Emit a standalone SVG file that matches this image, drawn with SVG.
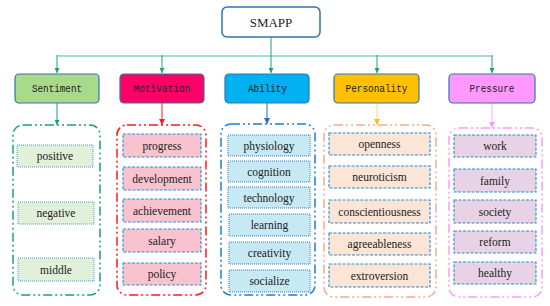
<svg xmlns="http://www.w3.org/2000/svg" width="550" height="306" viewBox="0 0 550 306">
<style>
.root{fill:#fff;stroke:#2e75b6;stroke-width:1.5}
.cat{stroke:#2e75b6;stroke-width:1.2}
.cat-t{font-family:"Liberation Mono","DejaVu Sans Mono",monospace;font-size:10.8px;fill:#222;text-anchor:middle;dominant-baseline:central}
.t{font-family:"Liberation Serif","Times New Roman",serif;font-size:11.5px;fill:#222;text-anchor:middle;dominant-baseline:central}
.grp{fill:#fff;stroke-width:1.5;stroke-dasharray:9 3 2 3 2 3}
.it{stroke:#2e8bd0;stroke-width:1.1;stroke-dasharray:3 1.5}
.dot{stroke:#3aa0d8;stroke-width:1;stroke-dasharray:1 1}
</style>
<defs>
<marker id="aT" viewBox="0 0 10 10" refX="10" refY="5" markerWidth="5" markerHeight="5" orient="auto" markerUnits="userSpaceOnUse"><path d="M0,0L10,5L0,10z" fill="#16a27c"/></marker>
<marker id="aR" viewBox="0 0 10 10" refX="10" refY="5" markerWidth="6" markerHeight="6" orient="auto" markerUnits="userSpaceOnUse"><path d="M0,0L10,5L0,10z" fill="#ff1a1a"/></marker>
<marker id="aB" viewBox="0 0 10 10" refX="10" refY="5" markerWidth="6" markerHeight="6" orient="auto" markerUnits="userSpaceOnUse"><path d="M0,0L10,5L0,10z" fill="#1f6fc8"/></marker>
<marker id="aY" viewBox="0 0 10 10" refX="10" refY="5" markerWidth="6" markerHeight="6" orient="auto" markerUnits="userSpaceOnUse"><path d="M0,0L10,5L0,10z" fill="#ffc000"/></marker>
<marker id="aP" viewBox="0 0 10 10" refX="10" refY="5" markerWidth="6" markerHeight="6" orient="auto" markerUnits="userSpaceOnUse"><path d="M0,0L10,5L0,10z" fill="#ff99ff"/></marker>
</defs>
<rect width="550" height="306" fill="#fff"/>
<g id="connectors" fill="none">
<line x1="57" y1="56" x2="492" y2="56" stroke="#9fe0cf" stroke-width="2"/>
<line x1="271" y1="37" x2="271" y2="73" stroke="#16a27c" stroke-width="1" marker-end="url(#aT)"/>
<line x1="57" y1="55" x2="57" y2="73" stroke="#16a27c" stroke-width="1" marker-end="url(#aT)"/>
<line x1="162" y1="55" x2="162" y2="73" stroke="#16a27c" stroke-width="1" marker-end="url(#aT)"/>
<line x1="377" y1="55" x2="377" y2="73" stroke="#16a27c" stroke-width="1" marker-end="url(#aT)"/>
<line x1="492" y1="55" x2="492" y2="73" stroke="#16a27c" stroke-width="1" marker-end="url(#aT)"/>
<line x1="57" y1="103" x2="57" y2="125" stroke="#16a27c" stroke-width="1" marker-end="url(#aT)"/>
<line x1="162" y1="103" x2="162" y2="125" stroke="#ff1a1a" stroke-width="1" marker-end="url(#aR)"/>
<line x1="267" y1="103" x2="267" y2="124" stroke="#1f6fc8" stroke-width="1" marker-end="url(#aB)"/>
<line x1="377" y1="103" x2="377" y2="125" stroke="#ffd966" stroke-width="1" marker-end="url(#aY)"/>
<line x1="492" y1="103" x2="492" y2="128" stroke="#ffaaff" stroke-width="1" marker-end="url(#aP)"/>
</g>
<g id="smapp"><rect class="root" x="222" y="7" width="98" height="30" rx="5"/><text class="t" x="271" y="22.5" style="font-size:13px">SMAPP</text></g>

<g id="sentiment"><rect class="cat" x="15" y="74" width="84" height="29" rx="4" fill="#a9d98a"/><text class="cat-t" x="57" y="88.5" textLength="50" lengthAdjust="spacingAndGlyphs">Sentiment</text></g>
<g id="motivation"><rect class="cat" x="120" y="74" width="84" height="29" rx="4" fill="#ff0066"/><text class="cat-t" x="162" y="88.5" textLength="57" lengthAdjust="spacingAndGlyphs">Motivation</text></g>
<g id="ability"><rect class="cat" x="225" y="74" width="84" height="29" rx="4" fill="#00b0f0"/><text class="cat-t" x="267.5" y="88.5" textLength="39" lengthAdjust="spacingAndGlyphs">Ability</text></g>
<g id="personality"><rect class="cat" x="334" y="74" width="85" height="29" rx="4" fill="#ffc000"/><text class="cat-t" x="376.5" y="88.5" textLength="62" lengthAdjust="spacingAndGlyphs">Personality</text></g>
<g id="pressure"><rect class="cat" x="449" y="74" width="86" height="29" rx="4" fill="#ff99ff"/><text class="cat-t" x="492" y="88.5" textLength="45" lengthAdjust="spacingAndGlyphs">Pressure</text></g>

<g id="sentiment-group">
<rect class="grp" x="13" y="125" width="87" height="170" rx="10" stroke="#16a27c"/>
<rect class="dot" x="17" y="145" width="76" height="22" fill="#e2efd9"/><text class="t" x="55" y="156">positive</text>
<rect class="dot" x="18" y="202" width="76" height="22" fill="#e2efd9"/><text class="t" x="56" y="213">negative</text>
<rect class="dot" x="18" y="258" width="76" height="23" fill="#e2efd9"/><text class="t" x="56" y="269.5">middle</text>
</g>
<g id="motivation-group">
<rect class="grp" x="117" y="125" width="89" height="170" rx="10" stroke="#ff1a1a"/>
<rect class="it" x="123" y="134" width="78" height="23" fill="#f8c3cf"/><text class="t" x="162" y="145.5">progress</text>
<rect class="it" x="123" y="167" width="78" height="23" fill="#f8c3cf"/><text class="t" x="162" y="178.5">development</text>
<rect class="it" x="123" y="199" width="78" height="23" fill="#f8c3cf"/><text class="t" x="162" y="210.5">achievement</text>
<rect class="it" x="123" y="229" width="78" height="23" fill="#f8c3cf"/><text class="t" x="162" y="240.5">salary</text>
<rect class="it" x="123" y="263" width="78" height="22" fill="#f8c3cf"/><text class="t" x="162" y="274">policy</text>
</g>
<g id="ability-group">
<rect class="grp" x="221" y="124" width="94" height="171" rx="10" stroke="#1f7fd0"/>
<rect class="dot" x="228" y="135" width="82" height="21" fill="#c7e9f3" style="stroke:#2a7fc8"/><text class="t" x="269" y="145.5">physiology</text>
<rect class="dot" x="228" y="161" width="82" height="21" fill="#c7e9f3" style="stroke:#2a7fc8"/><text class="t" x="269" y="171.5">cognition</text>
<rect class="dot" x="228" y="187" width="82" height="21" fill="#c7e9f3" style="stroke:#2a7fc8"/><text class="t" x="269" y="197.5">technology</text>
<rect class="dot" x="229" y="214" width="81" height="22" fill="#c7e9f3" style="stroke:#2a7fc8"/><text class="t" x="269.5" y="225">learning</text>
<rect class="dot" x="229" y="242" width="81" height="22" fill="#c7e9f3" style="stroke:#2a7fc8"/><text class="t" x="269.5" y="253">creativity</text>
<rect class="dot" x="229" y="270" width="81" height="22" fill="#c7e9f3" style="stroke:#2a7fc8"/><text class="t" x="269.5" y="281">socialize</text>
</g>
<g id="personality-group">
<rect class="grp" x="324" y="125" width="112" height="172" rx="10" stroke="#f8a98a"/>
<rect class="it" x="329" y="133" width="101" height="22" fill="#fbe5d6"/><text class="t" x="379.5" y="144">openness</text>
<rect class="it" x="329" y="166" width="101" height="22" fill="#fbe5d6"/><text class="t" x="379.5" y="177">neuroticism</text>
<rect class="it" x="329" y="200" width="101" height="23" fill="#fbe5d6"/><text class="t" x="379.5" y="211.5">conscientiousness</text>
<rect class="it" x="329" y="233" width="101" height="22" fill="#fbe5d6"/><text class="t" x="379.5" y="244">agreeableness</text>
<rect class="it" x="329" y="264" width="101" height="23" fill="#fbe5d6"/><text class="t" x="379.5" y="275.5">extroversion</text>
</g>
<g id="pressure-group">
<rect class="grp" x="449" y="128" width="93" height="169" rx="10" stroke="#ff99ff"/>
<rect class="it" x="454" y="135" width="82" height="22" fill="#e8d3e6"/><text class="t" x="495" y="146">work</text>
<rect class="it" x="454" y="169" width="82" height="23" fill="#e8d3e6"/><text class="t" x="495" y="180.5">family</text>
<rect class="it" x="454" y="200" width="82" height="23" fill="#e8d3e6"/><text class="t" x="495" y="211.5">society</text>
<rect class="it" x="454" y="231" width="82" height="22" fill="#e8d3e6"/><text class="t" x="495" y="242">reform</text>
<rect class="it" x="454" y="262" width="82" height="22" fill="#e8d3e6"/><text class="t" x="495" y="273">healthy</text>
</g>
</svg>
